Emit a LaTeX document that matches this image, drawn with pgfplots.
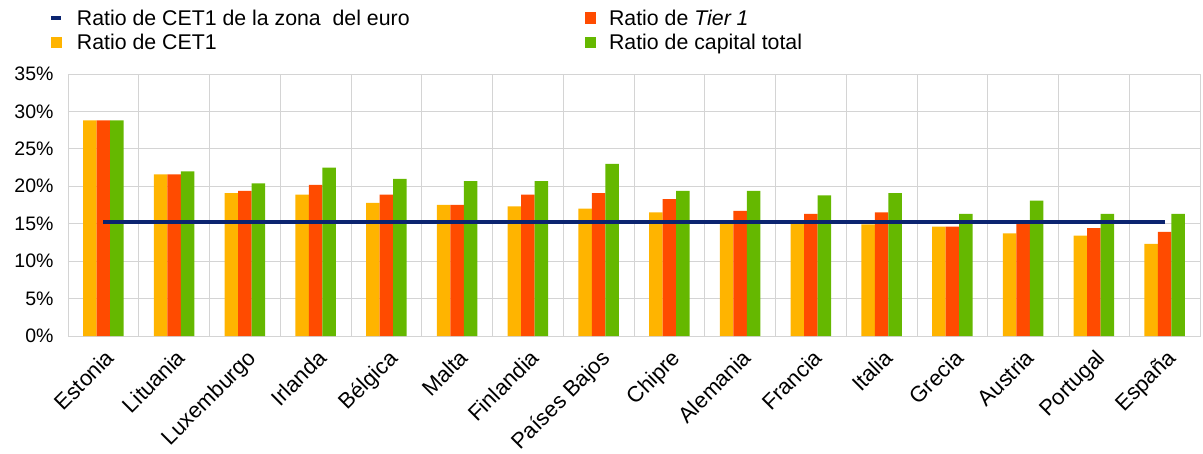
\documentclass[border=0pt]{standalone}
\usepackage{pgfplots}
\pgfplotsset{compat=1.18}
\usepackage{fontspec}
\setmainfont{Liberation Sans}

\definecolor{cetone}{HTML}{FFB400}
\definecolor{tierone}{HTML}{FF4B00}
\definecolor{total}{HTML}{65B800}
\definecolor{euroline}{HTML}{0B2470}
\definecolor{gridgrey}{HTML}{D4D4D4}

\begin{document}
\begin{tikzpicture}
\begin{axis}[
    name=ax,
    scale only axis,
    width=1132pt, height=262pt,
    xmin=-0.5, xmax=15.5,
    ymin=0, ymax=35,
    xtick={0,...,15},
    xticklabels={Estonia,Lituania,Luxemburgo,Irlanda,Bélgica,Malta,Finlandia,Países Bajos,Chipre,Alemania,Francia,Italia,Grecia,Austria,Portugal,España},
    x tick label style={xshift=1pt, yshift=-12pt, rotate=45, anchor=north east, inner sep=0pt, font=\fontsize{22}{24}\selectfont},
    minor xtick={-0.5,0.5,...,15.5},
    xminorgrids,
    ytick={0,5,...,35},
    ymajorgrids,
    yticklabel={\pgfmathprintnumber{\tick}\%},
    y tick label style={font=\fontsize{19.5}{21}\selectfont, xshift=-11pt},
    /pgf/number format/assume math mode=true,
    major tick length=0pt, minor tick length=0pt,
    grid style={gridgrey, line width=0.8pt},
    minor grid style={gridgrey, line width=0.8pt},
    axis line style={gridgrey, line width=0.8pt},
    legend columns=2,
    legend cell align=left,
    legend style={at={(axis description cs:-0.017,1.254)}, anchor=north west,
        draw=none, fill=none, inner sep=0pt,
        font=\fontsize{21.3}{23}\selectfont,
        column sep=12pt, row sep=3pt,
        /tikz/every even column/.append style={column sep=173pt}},
]
\addlegendimage{legend image code/.code={\draw[euroline, line width=4pt] (0pt,0pt) -- (10pt,0pt);}}
\addlegendentry{Ratio de CET1 de la zona\ \ del euro}
\addlegendimage{legend image code/.code={\fill[tierone] (0pt,-5pt) rectangle (10pt,6pt);}}
\addlegendentry{Ratio de \textit{Tier 1}}
\addlegendimage{legend image code/.code={\fill[cetone] (0pt,-5pt) rectangle (10pt,5pt);}}
\addlegendentry{Ratio de CET1}
\addlegendimage{legend image code/.code={\fill[total] (0pt,-5pt) rectangle (10pt,5pt);}}
\addlegendentry{Ratio de capital total}

% Ratio de CET1
\addplot[forget plot, ybar, bar width=13.5pt, bar shift=-13.5pt, fill=cetone, draw=none] coordinates {
  (0,28.8) (1,21.6) (2,19.1) (3,18.9) (4,17.8) (5,17.5) (6,17.3) (7,17.0)
  (8,16.5) (9,15.0) (10,15.0) (11,14.9) (12,14.6) (13,13.7) (14,13.4) (15,12.3)};
% Ratio de Tier 1
\addplot[forget plot, ybar, bar width=13.5pt, bar shift=0pt, fill=tierone, draw=none] coordinates {
  (0,28.8) (1,21.6) (2,19.4) (3,20.2) (4,18.9) (5,17.5) (6,18.9) (7,19.1)
  (8,18.3) (9,16.7) (10,16.3) (11,16.5) (12,14.6) (13,15.2) (14,14.4) (15,13.9)};
% Ratio de capital total
\addplot[forget plot, ybar, bar width=13.5pt, bar shift=13.5pt, fill=total, draw=none] coordinates {
  (0,28.8) (1,22.0) (2,20.4) (3,22.5) (4,21.0) (5,20.7) (6,20.7) (7,23.0)
  (8,19.4) (9,19.4) (10,18.8) (11,19.1) (12,16.3) (13,18.1) (14,16.3) (15,16.3)};
% Ratio de CET1 de la zona del euro
\addplot[forget plot, euroline, line width=4pt] coordinates {(0,15.25) (15,15.25)};
\end{axis}
\path (ax.south west) ++(-68pt,-114pt) rectangle ([xshift=3pt,yshift=74pt]ax.north east);
\end{tikzpicture}
\end{document}
